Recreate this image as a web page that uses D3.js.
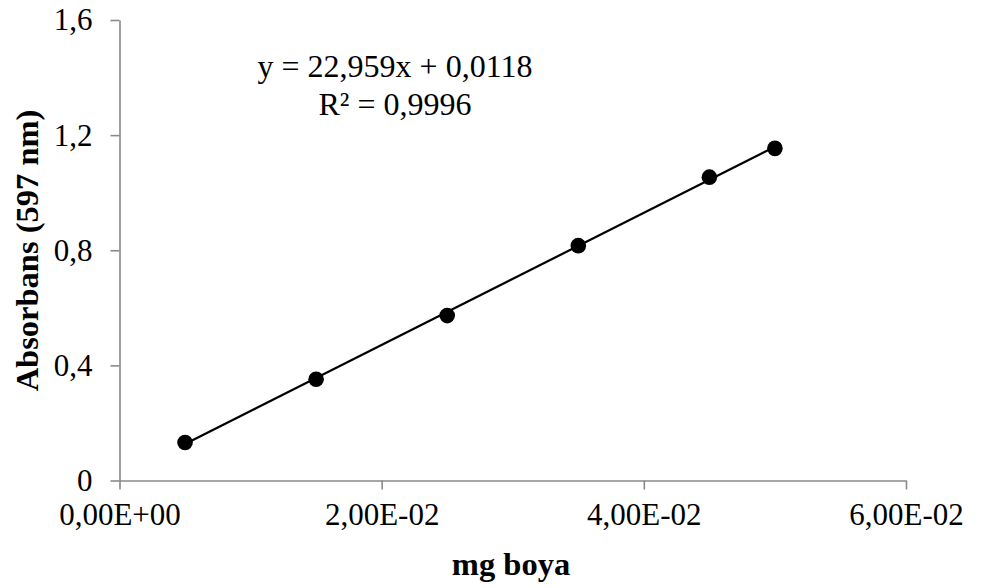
<!DOCTYPE html>
<html>
<head>
<meta charset="utf-8">
<script src="https://cdn.jsdelivr.net/npm/d3@7"></script>
<style>
  body { margin: 0; background: #fff; }
  .axis path, .axis line { stroke: #898989; stroke-width: 1.6; }
  .axis text { fill: #000; }
</style>
</head>
<body>
<div id="chart"></div>
<script>
// measured points (mg boya vs absorbans at 597 nm)
const mgBoya = [0.005, 0.015, 0.025, 0.035, 0.045, 0.05];
const absorbans = [0.132, 0.352, 0.573, 0.816, 1.054, 1.154];

// linear trendline
const slope = 22.959;
const intercept = 0.0118;
const eqLabels = ["y = 22,959x + 0,0118", "R\u00b2 = 0,9996"];

const xTicks = [0, 0.02, 0.04, 0.06];
const xTickLabels = ["0,00E+00", "2,00E-02", "4,00E-02", "6,00E-02"];
const yTicks = [0, 0.4, 0.8, 1.2, 1.6];
const yTickLabels = ["0", "0,4", "0,8", "1,2", "1,6"];

const serif = "Liberation Serif, Times New Roman, Times, serif";

const width = 982, height = 588;
const margin = { top: 20, right: 76, bottom: 107.5, left: 119.5 };

const svg = d3.select("#chart").append("svg")
    .attr("width", width)
    .attr("height", height);

const x = d3.scaleLinear().domain([0, 0.06]).range([margin.left, width - margin.right]);
const y = d3.scaleLinear().domain([0, 1.6]).range([height - margin.bottom, margin.top]);

// axes
svg.append("g")
    .attr("class", "axis")
    .attr("transform", `translate(0,${height - margin.bottom})`)
    .call(d3.axisBottom(x).tickValues(xTicks).tickSize(9).tickSizeOuter(0).tickPadding(12)
        .tickFormat((d, i) => xTickLabels[i]))
    .attr("font-family", serif)
    .attr("font-size", 31)
    .call(g => g.selectAll("text").attr("dy", "0.75em"));

svg.append("g")
    .attr("class", "axis")
    .attr("transform", `translate(${margin.left},0)`)
    .call(d3.axisLeft(y).tickValues(yTicks).tickSize(9).tickSizeOuter(0).tickPadding(18)
        .tickFormat((d, i) => yTickLabels[i]))
    .attr("font-family", serif)
    .attr("font-size", 31);

// trendline across the data range
const xExtent = d3.extent(mgBoya);
svg.append("line")
    .attr("x1", x(xExtent[0]))
    .attr("y1", y(slope * xExtent[0] + intercept))
    .attr("x2", x(xExtent[1]))
    .attr("y2", y(slope * xExtent[1] + intercept))
    .attr("stroke", "#000")
    .attr("stroke-width", 2.2);

// markers
svg.append("g")
    .selectAll("circle")
    .data(mgBoya)
    .enter()
    .append("circle")
    .attr("cx", d => x(d))
    .attr("cy", (d, i) => y(absorbans[i]))
    .attr("r", 7.8)
    .attr("fill", "#000");

// equation text
svg.append("g")
    .attr("font-family", serif)
    .attr("font-size", 32)
    .selectAll("text")
    .data(eqLabels)
    .enter()
    .append("text")
    .attr("x", 395)
    .attr("y", (d, i) => 77 + i * 38)
    .attr("text-anchor", "middle")
    .text(d => d);

// axis titles
svg.append("text")
    .attr("x", 511)
    .attr("y", 575)
    .attr("text-anchor", "middle")
    .attr("font-family", serif)
    .attr("font-size", 32.5)
    .attr("font-weight", "bold")
    .text("mg boya");

svg.append("text")
    .attr("transform", "translate(38,250.5) rotate(-90)")
    .attr("text-anchor", "middle")
    .attr("font-family", serif)
    .attr("font-size", 32.5)
    .attr("font-weight", "bold")
    .text("Absorbans (597 nm)");
</script>
</body>
</html>
